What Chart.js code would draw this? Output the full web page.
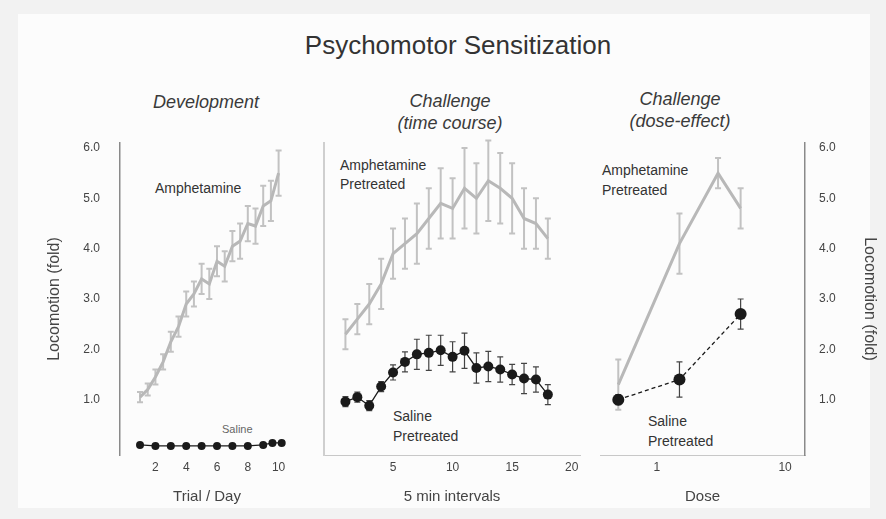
<!DOCTYPE html>
<html><head><meta charset="utf-8">
<script src="https://cdn.jsdelivr.net/npm/chart.js@4"></script>
<style>
html,body{margin:0;padding:0;}
body{width:886px;height:519px;background:#f2f2f2;position:relative;overflow:hidden;font-family:"Liberation Sans",Arial,sans-serif;color:#3a3a3a;}
#inner{position:absolute;left:18px;top:14px;width:852px;height:494px;background:#fcfcfc;}
canvas{position:absolute;}
.t{position:absolute;white-space:nowrap;line-height:1;}
.it{font-style:italic;}
</style></head>
<body>
<div id="inner"></div>
<div class="t" style="left:0;width:916px;text-align:center;top:32px;font-size:26px;color:#333;">Psychomotor Sensitization</div>
<div class="t it" style="left:146px;width:120px;text-align:center;top:93px;font-size:18px;">Development</div>
<div class="t it" style="left:390px;width:120px;text-align:center;top:90px;font-size:18px;line-height:22px;">Challenge<br>(time course)</div>
<div class="t it" style="left:620px;width:120px;text-align:center;top:88px;font-size:18px;line-height:22px;">Challenge<br>(dose-effect)</div>

<div class="t" style="left:155px;top:181px;font-size:14px;color:#333;">Amphetamine</div>
<div class="t" style="left:222px;top:424px;font-size:11px;color:#666;">Saline</div>
<div class="t" style="left:340px;top:156px;font-size:14px;line-height:19px;color:#333;">Amphetamine<br>Pretreated</div>
<div class="t" style="left:393px;top:406px;font-size:14px;line-height:20px;color:#333;">Saline<br>Pretreated</div>
<div class="t" style="left:602px;top:160px;font-size:14px;line-height:20px;color:#333;">Amphetamine<br>Pretreated</div>
<div class="t" style="left:648px;top:411px;font-size:14px;line-height:20px;color:#333;">Saline<br>Pretreated</div>

<canvas id="c1" width="300" height="389" style="left:0;top:130px;width:300px;height:389px;"></canvas>
<canvas id="c2" width="300" height="389" style="left:300px;top:130px;width:300px;height:389px;"></canvas>
<canvas id="c3" width="296" height="389" style="left:590px;top:130px;width:296px;height:389px;"></canvas>
<script>
// ---------- data ----------
const yTickValues = [1, 2, 3, 4, 5, 6];
const yAxisTitle = 'Locomotion (fold)';

// Development (trial / day)
const devDays = [1, 1.5, 2, 2.5, 3, 3.5, 4, 4.5, 5, 5.5, 6, 6.5, 7, 7.5, 8, 8.5, 9, 9.5, 10];
const devAmph = [1.05, 1.2, 1.45, 1.75, 2.15, 2.45, 2.9, 3.1, 3.4, 3.3, 3.75, 3.65, 4.05, 4.15, 4.5, 4.45, 4.85, 4.95, 5.5];
const devAmphErr = [0.1, 0.12, 0.15, 0.15, 0.2, 0.2, 0.25, 0.25, 0.3, 0.3, 0.3, 0.3, 0.3, 0.35, 0.35, 0.35, 0.4, 0.4, 0.45];
const devSalDays = [1, 2, 3, 4, 5, 6, 7, 8, 9, 9.6, 10.2];
const devSaline = [0.1, 0.08, 0.08, 0.08, 0.08, 0.08, 0.08, 0.08, 0.1, 0.14, 0.14];
const devXTicks = [2, 4, 6, 8, 10];

// Challenge time course (5 min intervals)
const tcIntervals = [1, 2, 3, 4, 5, 6, 7, 8, 9, 10, 11, 12, 13, 14, 15, 16, 17, 18];
const tcAmph = [2.3, 2.6, 2.9, 3.3, 3.9, 4.1, 4.3, 4.6, 4.9, 4.8, 5.2, 5.0, 5.35, 5.2, 5.0, 4.6, 4.5, 4.2];
const tcAmphErr = [0.3, 0.3, 0.4, 0.5, 0.5, 0.5, 0.6, 0.6, 0.7, 0.6, 0.8, 0.7, 0.8, 0.7, 0.7, 0.6, 0.5, 0.4];
const tcSaline = [0.96, 1.05, 0.88, 1.26, 1.54, 1.75, 1.9, 1.93, 1.98, 1.85, 1.97, 1.63, 1.66, 1.6, 1.5, 1.42, 1.4, 1.1];
const tcSalineErr = [0.1, 0.1, 0.1, 0.1, 0.15, 0.2, 0.3, 0.35, 0.3, 0.3, 0.35, 0.3, 0.3, 0.25, 0.2, 0.3, 0.25, 0.2];
const tcXTicks = [5, 10, 15, 20];

// Challenge dose-effect
const doseAmphX = [0.5, 1.5, 3, 4.5];
const doseAmph = [1.3, 4.1, 5.5, 4.8];
const doseAmphErr = [0.5, 0.6, 0.3, 0.4];
const doseSalX = [0.5, 1.5, 4.5];
const doseSaline = [1.0, 1.4, 2.7];
const doseSalineErr = [0.1, 0.35, 0.3];
const doseXTicks = [1, 10];

// ---------- helpers ----------
const pts = (xs, ys) => xs.map((x, i) => ({x: x, y: ys[i]}));
const AMPH = '#b8b8b8';
const SAL = '#1a1a1a';
const AXIS = '#8a8a8a';
const FONT = {family: '"Liberation Sans", Arial, sans-serif'};

const errorBars = {
  id: 'errorBars',
  beforeDatasetsDraw(chart) {
    const ctx = chart.ctx;
    chart.data.datasets.forEach((ds, i) => {
      if (!ds.errors) return;
      const meta = chart.getDatasetMeta(i);
      const ys = chart.scales[meta.yAxisID];
      meta.data.forEach((el, j) => {
        const v = ds.data[j].y, e = ds.errors[j];
        const t = ys.getPixelForValue(v + e), b = ys.getPixelForValue(v - e);
        ctx.save();
        ctx.strokeStyle = ds.errorColor;
        ctx.lineWidth = ds.errorWidth;
        ctx.beginPath();
        ctx.moveTo(el.x, t); ctx.lineTo(el.x, b);
        ctx.moveTo(el.x - 3, t); ctx.lineTo(el.x + 3, t);
        ctx.moveTo(el.x - 3, b); ctx.lineTo(el.x + 3, b);
        ctx.stroke();
        ctx.restore();
      });
    });
  }
};

function amphSet(xs, ys, errs) {
  return {data: pts(xs, ys), borderColor: AMPH, borderWidth: 3, pointRadius: 0,
    errors: errs, errorColor: '#c2c2c2', errorWidth: 2, tension: 0, order: 2};
}
function salSet(xs, ys, errs, r, dash) {
  return {data: pts(xs, ys), borderColor: SAL, backgroundColor: SAL, borderWidth: 1.3,
    pointRadius: r, pointBorderWidth: 0, borderDash: dash || [], errors: errs,
    errorColor: '#444', errorWidth: 1.2, tension: 0, order: 1};
}
const yScaleBase = (pos, showLabels, width, title, titlePad, tickPad) => ({
  type: 'linear', position: pos, min: -0.1, max: 6.1,
  afterFit: s => { s.width = width; s.paddingTop = 0; s.paddingBottom = 0; },
  afterBuildTicks: s => { s.ticks = yTickValues.map(v => ({value: v})); },
  grid: {display: false, drawTicks: false},
  border: {display: true, color: AXIS, width: 1.5},
  ticks: {display: showLabels, padding: tickPad || 0, color: '#444', font: {...FONT, size: 12},
    callback: v => v.toFixed(1)},
  title: {display: !!title, text: title || '', color: '#444', font: {...FONT, size: 16}, padding: {top: titlePad || 0, bottom: 0}}
});
const xScaleBase = (type, min, max, tickVals, title, borderOn) => ({
  type: type, min: min, max: max,
  afterFit: s => { s.height = 64; s.paddingLeft = 0; s.paddingRight = 0; },
  afterBuildTicks: s => { s.ticks = tickVals.map(v => ({value: v})); },
  grid: {display: false, drawTicks: false},
  border: {display: borderOn, color: '#c8c8c8', width: 1},
  ticks: {color: '#444', padding: 5, maxRotation: 0, autoSkip: false, font: {...FONT, size: 12},
    callback: v => String(v)},
  title: {display: true, text: title, color: '#444', font: {...FONT, size: 15}, padding: {top: 12, bottom: 13}}
});
const common = {
  responsive: false, animation: false, devicePixelRatio: 1,
  plugins: {legend: {display: false}, tooltip: {enabled: false}, title: {display: false}}
};

// Panel 1: Development
new Chart(document.getElementById('c1'), {
  type: 'line',
  data: {datasets: [amphSet(devDays, devAmph, devAmphErr), salSet(devSalDays, devSaline, null, 4)]},
  options: {...common,
    layout: {padding: {top: 13, right: 6, left: 0, bottom: 0}},
    scales: {
      x: xScaleBase('linear', -0.3, 11, devXTicks, 'Trial / Day', false),
      y: yScaleBase('left', true, 120, yAxisTitle, 45, 20)
    }},
  plugins: [errorBars]
});

// Panel 2: Challenge time course
new Chart(document.getElementById('c2'), {
  type: 'line',
  data: {datasets: [amphSet(tcIntervals, tcAmph, tcAmphErr), salSet(tcIntervals, tcSaline, tcSalineErr, 5)]},
  options: {...common,
    layout: {padding: {top: 13, right: 20, left: 0, bottom: 0}},
    scales: {
      x: xScaleBase('linear', -0.8, 20.7, tcXTicks, '5 min intervals', true),
      y: {...yScaleBase('left', false, 24, null), border: {display: true, color: '#cfcfcf', width: 2}}
    }},
  plugins: [errorBars]
});

// Panel 3: Challenge dose-effect
new Chart(document.getElementById('c3'), {
  type: 'line',
  data: {datasets: [amphSet(doseAmphX, doseAmph, doseAmphErr), salSet(doseSalX, doseSaline, doseSalineErr, 6, [4, 3])]},
  options: {...common,
    layout: {padding: {top: 13, right: 0, left: 10, bottom: 0}},
    scales: {
      x: xScaleBase('logarithmic', 0.36, 14.3, doseXTicks, 'Dose', true),
      y: yScaleBase('right', true, 81, yAxisTitle, 7, 14)
    }},
  plugins: [errorBars]
});
</script>
</body></html>
